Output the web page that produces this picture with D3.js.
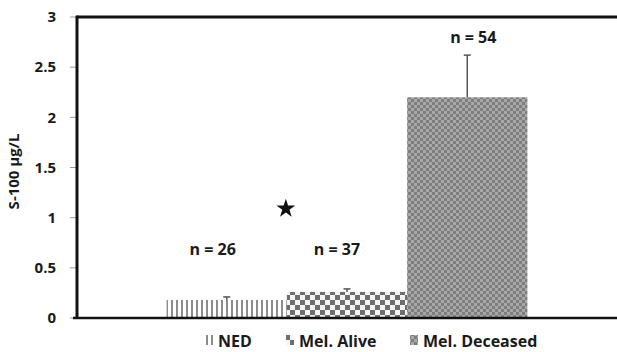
<!DOCTYPE html>
<html>
<head>
<meta charset="utf-8">
<script src="https://cdn.jsdelivr.net/npm/d3@7"></script>
<style>
  body { margin: 0; background: #fff; }
  svg text { font-family: "Open Sans", Lato, sans-serif; font-weight: bold; fill: #1a1a1a; }
</style>
</head>
<body>
<svg id="chart" width="617" height="352"></svg>
<script>
// data
const groups = ["NED", "Mel. Alive", "Mel. Deceased"];
const means = [0.18, 0.26, 2.20];
const errTops = [0.21, 0.29, 2.62];
const nLabels = ["n = 26", "n = 37", "n = 54"];
const nLabelY = [0.68, 0.68, 2.80];
const yTicks = [0, 0.5, 1, 1.5, 2, 2.5, 3];
const starValue = 1.1;

const svg = d3.select("#chart");
const width = 617, height = 352;
const margin = { top: 17, right: 0, bottom: 34, left: 77 };

const y = d3.scaleLinear().domain([0, 3]).range([height - margin.bottom, margin.top]);
const x = d3.scaleBand().domain(groups)
  .range([margin.left, width - margin.right])
  .paddingInner(0).paddingOuter(0.745);

// fill patterns
const defs = svg.append("defs");
const stripes = defs.append("pattern").attr("id", "pNED")
  .attr("width", 5).attr("height", 5).attr("patternUnits", "userSpaceOnUse");
stripes.append("rect").attr("width", 5).attr("height", 5).attr("fill", "#fff");
stripes.append("rect").attr("x", 1).attr("width", 2).attr("height", 5).attr("fill", "#8c8c8c");

const checker = defs.append("pattern").attr("id", "pAlive")
  .attr("width", 10).attr("height", 10).attr("patternUnits", "userSpaceOnUse");
checker.append("rect").attr("width", 10).attr("height", 10).attr("fill", "#f4f4f4");
checker.append("rect").attr("width", 5).attr("height", 5).attr("fill", "#6e6e6e");
checker.append("rect").attr("x", 5).attr("y", 5).attr("width", 5).attr("height", 5).attr("fill", "#6e6e6e");

const fine = defs.append("pattern").attr("id", "pDead")
  .attr("width", 6).attr("height", 6).attr("patternUnits", "userSpaceOnUse");
fine.append("rect").attr("width", 6).attr("height", 6).attr("fill", "#a8a8a8");
fine.append("rect").attr("width", 3).attr("height", 3).attr("fill", "#7e7e7e");
fine.append("rect").attr("x", 3).attr("y", 3).attr("width", 3).attr("height", 3).attr("fill", "#7e7e7e");

const fills = ["url(#pNED)", "url(#pAlive)", "url(#pDead)"];

// bars
svg.selectAll(".bar")
  .data(groups)
  .join("rect")
  .attr("class", "bar")
  .attr("x", d => x(d))
  .attr("width", x.bandwidth())
  .attr("y", (d, i) => y(means[i]))
  .attr("height", (d, i) => y(0) - y(means[i]))
  .attr("fill", (d, i) => fills[i]);

// error bars (upper only)
const err = svg.append("g").attr("stroke", "#555").attr("stroke-width", 1.5);
groups.forEach((g, i) => {
  const cx = x(g) + x.bandwidth() / 2;
  err.append("line").attr("x1", cx).attr("x2", cx)
    .attr("y1", y(means[i])).attr("y2", y(errTops[i]));
  err.append("line").attr("x1", cx - 3.5).attr("x2", cx + 3.5)
    .attr("y1", y(errTops[i])).attr("y2", y(errTops[i]));
});

// y axis ticks and labels
const yAxis = svg.append("g");
yAxis.selectAll("line").data(yTicks).join("line")
  .attr("x1", margin.left - 7).attr("x2", margin.left)
  .attr("y1", d => y(d)).attr("y2", d => y(d))
  .attr("stroke", "#999").attr("stroke-width", 1);
yAxis.selectAll("text").data(yTicks).join("text")
  .attr("x", margin.left - 21).attr("y", d => y(d))
  .attr("dy", "0.35em").attr("text-anchor", "end")
  .attr("font-size", 15)
  .text(d => d);

// frame: left, top, bottom lines
svg.append("line").attr("x1", margin.left).attr("x2", margin.left)
  .attr("y1", y(3) - 1.5).attr("y2", y(0) + 1)
  .attr("stroke", "#111").attr("stroke-width", 3);
svg.append("line").attr("x1", margin.left).attr("x2", width)
  .attr("y1", y(3)).attr("y2", y(3))
  .attr("stroke", "#111").attr("stroke-width", 3);
svg.append("line").attr("x1", margin.left - 4).attr("x2", width)
  .attr("y1", y(0)).attr("y2", y(0))
  .attr("stroke", "#111").attr("stroke-width", 2.5);

// y axis title
svg.append("text")
  .attr("transform", `translate(19,${(y(0) + y(3)) / 2 + 4}) rotate(-90)`)
  .attr("text-anchor", "middle").attr("font-size", 15)
  .text("S-100  µg/L");

// n labels
const labelShift = [-14, -10, 6];
svg.selectAll(".nlab").data(groups).join("text")
  .attr("class", "nlab")
  .attr("x", (d, i) => x(d) + x.bandwidth() / 2 + labelShift[i])
  .attr("y", (d, i) => y(nLabelY[i]))
  .attr("dy", "0.35em").attr("text-anchor", "middle")
  .attr("font-size", 16)
  .text((d, i) => nLabels[i]);

// significance star between NED and Mel. Alive
svg.append("path")
  .attr("d", d3.symbol(d3.symbolStar, 110)())
  .attr("transform", `translate(${x(groups[1]) - 1},${y(starValue) + 1})`)
  .attr("fill", "#111");

// legend
const legendX = [205, 286, 410];
const legend = svg.append("g");
groups.forEach((g, i) => {
  legend.append("rect")
    .attr("x", legendX[i]).attr("y", 335)
    .attr("width", 8).attr("height", 10)
    .attr("fill", fills[i]);
  legend.append("text")
    .attr("x", legendX[i] + 13).attr("y", 341)
    .attr("dy", "0.35em").attr("font-size", 16)
    .text(g);
});
</script>
</body>
</html>
